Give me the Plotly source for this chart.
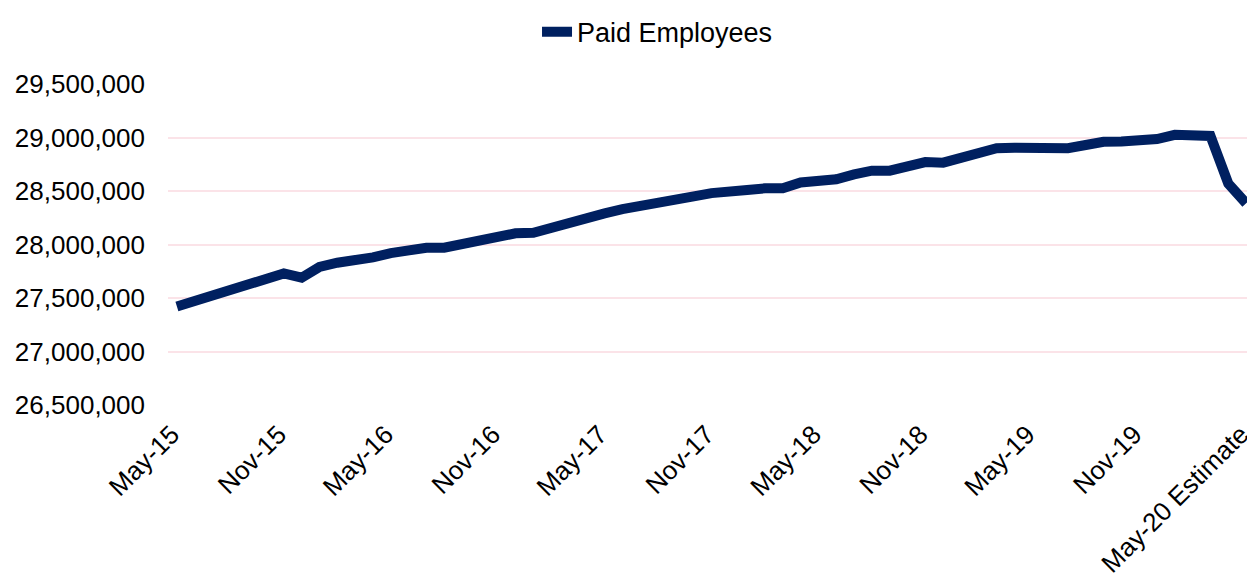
import plotly.graph_objects as go

tick_labels = ["May-15", "Nov-15", "May-16", "Nov-16", "May-17", "Nov-17",
               "May-18", "Nov-18", "May-19", "Nov-19", "May-20 Estimate"]

paid_employees = [
    27420000, 27475000, 27530000, 27570000, 27630000, 27690000, 27730000, 27690000,
    27790000, 27830000, 27845000, 27880000, 27920000, 27950000, 27970000, 27970000,
    28005000, 28030000, 28070000, 28105000, 28110000, 28160000, 28210000, 28255000,
    28290000, 28330000, 28355000, 28390000, 28420000, 28450000, 28480000, 28505000,
    28510000, 28525000, 28525000, 28580000, 28590000, 28610000, 28655000, 28690000,
    28690000, 28730000, 28770000, 28765000, 28805000, 28850000, 28900000, 28905000,
    28910000, 28910000, 28900000, 28930000, 28960000, 28962000, 28965000, 28985000,
    29025000, 29020000, 29015000, 28570000, 28385000,
]

x_idx = list(range(len(paid_employees)))
tick_pos = list(range(0, len(paid_employees), 6))

FONT = "Liberation Sans, Arial, sans-serif"

fig = go.Figure()
fig.add_trace(go.Scatter(
    x=x_idx, y=paid_employees, mode="lines", name="Paid Employees",
    line=dict(color="#002060", width=10),
))

fig.update_layout(
    width=1247, height=574,
    margin=dict(l=168, r=0, t=84, b=169, autoexpand=False),
    paper_bgcolor="white", plot_bgcolor="white",
    font=dict(family=FONT, size=26, color="black"),
    showlegend=True,
    legend=dict(
        orientation="h", x=0.342, xanchor="left",
        yref="container", y=0.944, yanchor="middle",
        font=dict(family=FONT, size=27, color="black"),
        bgcolor="rgba(0,0,0,0)",
    ),
    xaxis=dict(
        range=[-0.5, 60.05], automargin=False,
        tickmode="array", tickvals=tick_pos, ticktext=tick_labels,
        tickangle=-45, showgrid=False, zeroline=False, showline=False,
        ticks="", ticklabelstandoff=8, ticklabelshift=-5, ticklabeloverflow="allow",
        tickfont=dict(family=FONT, size=26, color="black"),
    ),
    yaxis=dict(
        range=[26500000, 29500000], dtick=500000, tick0=26500000, automargin=False,
        tickformat=",d", showgrid=True, gridcolor="#fbe3e8", gridwidth=2,
        zeroline=False, showline=False, ticks="", ticklabelstandoff=22,
        tickfont=dict(family=FONT, size=26, color="black"),
    ),
)

fig.write_html(
    "out.html",
    config={"displayModeBar": False},
    post_script="document.body.style.margin='0';document.body.style.overflow='hidden';",
)
